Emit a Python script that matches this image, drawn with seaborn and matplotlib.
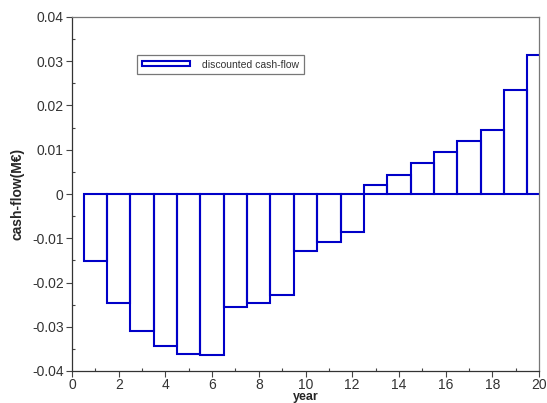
import matplotlib
matplotlib.use("Agg")
import matplotlib.pyplot as plt
import seaborn as sns
import pandas as pd
from matplotlib.patches import Patch
from matplotlib.ticker import MultipleLocator

years = list(range(1, 21))
cash_flow = [-0.0151, -0.0246, -0.0309, -0.0343, -0.0361, -0.0363, -0.0255, -0.0246,
             -0.0229, -0.0129, -0.0108, -0.0086, 0.0020, 0.0043, 0.0069, 0.0094,
             0.0120, 0.0145, 0.0235, 0.0314]
series_label = "discounted cash-flow"
x_label = "year"
y_label = "cash-flow(M€)"

df = pd.DataFrame({"year": years, "cf": cash_flow})

sns.set_theme(style="white")
plt.rcParams['font.family'] = ['Liberation Sans', 'DejaVu Sans']

blue = '#0000c8'
fig = plt.figure(figsize=(5.47, 4.03), dpi=100)
ax = fig.add_axes([72/547, 1-371/403, 467/547, 354/403])

sns.barplot(data=df, x="year", y="cf", native_scale=True, width=1.0,
            color="white", edgecolor=blue, linewidth=1.5, ax=ax, zorder=2)
for p in ax.patches:
    p.set_facecolor('none')
    p.set_edgecolor(blue)

ax.set_xlim(0, 20)
ax.set_ylim(-0.04, 0.04)
ax.xaxis.set_major_locator(MultipleLocator(2))
ax.xaxis.set_minor_locator(MultipleLocator(1))
ax.yaxis.set_major_locator(MultipleLocator(0.01))
ax.yaxis.set_minor_locator(MultipleLocator(0.005))
ax.set_yticklabels([f"{v:g}" for v in ax.get_yticks()])
ax.set_xticklabels([f"{int(v)}" for v in ax.get_xticks()])

ax.tick_params(axis='both', which='major', direction='out', length=4, width=0.8,
               color='#444444', labelsize=10, labelcolor='#333333', pad=2,
               bottom=True, left=True)
ax.tick_params(axis='x', which='major', pad=1)
ax.tick_params(axis='both', which='minor', direction='in', length=2.5, width=0.8,
               color='#444444', bottom=True, left=True)

for side in ['left', 'bottom']:
    ax.spines[side].set_color('#333333')
    ax.spines[side].set_linewidth(0.9)
for side in ['top', 'right']:
    ax.spines[side].set_color('#777777')
    ax.spines[side].set_linewidth(0.9)

ax.set_xlabel(x_label, fontsize=9, fontweight='bold', labelpad=-0.5)
ax.set_ylabel(y_label, fontsize=10, fontweight='bold', labelpad=5)

handle = Patch(facecolor='white', edgecolor=blue, linewidth=1.5, label=series_label)
leg = ax.legend(handles=[handle], loc='upper left',
                bbox_to_anchor=((137-72)/467, (371-55)/354), borderaxespad=0,
                fontsize=7.5, frameon=True, fancybox=False, handlelength=4.6,
                handleheight=0.35, handletextpad=1.2, borderpad=0.45)
leg.get_frame().set_edgecolor('#555555')
leg.get_frame().set_linewidth(0.9)
for t in leg.get_texts():
    t.set_color('#333333')

fig.savefig("out.png", dpi=100, facecolor='white')
